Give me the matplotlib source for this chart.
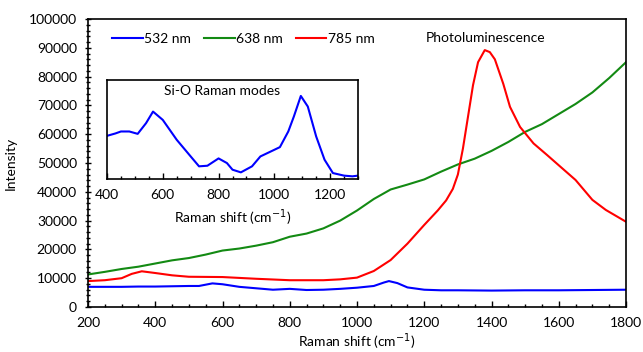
import matplotlib
matplotlib.use("Agg")
import matplotlib.pyplot as plt
from matplotlib.ticker import MultipleLocator

plt.rcParams['font.family'] = ['Lato', 'DejaVu Sans']

# Main spectra
blue_x = [200,250,300,350,400,450,500,530,570,600,650,700,750,800,850,900,950,1000,1050,1080,1095,1120,1150,1200,1250,1300,1400,1500,1600,1700,1800]
blue_y = [7000,7000,7000,7100,7100,7200,7300,7300,8200,7900,7000,6500,6000,6300,5900,6000,6300,6700,7300,8500,9000,8300,6800,6000,5800,5800,5700,5800,5800,5900,6000]

green_x = [200,250,300,350,400,450,500,550,600,650,700,750,800,850,900,950,1000,1050,1100,1150,1200,1250,1300,1350,1400,1450,1500,1550,1600,1650,1700,1750,1800]
green_y = [11300,12200,13200,14000,15100,16200,17000,18200,19600,20300,21300,22500,24400,25500,27300,30000,33500,37500,40800,42500,44300,47000,49500,51500,54200,57300,60800,63500,67000,70500,74500,79500,85000]

red_x = [200,250,300,330,360,400,450,500,600,700,800,900,950,1000,1050,1100,1150,1200,1240,1265,1285,1300,1315,1330,1345,1360,1380,1395,1410,1435,1455,1485,1525,1565,1605,1650,1700,1740,1800]
red_y = [9000,9300,10000,11500,12400,11800,11000,10500,10400,9800,9300,9300,9600,10200,12500,16300,22000,28500,33500,37000,41000,46000,55000,66000,77000,85000,89200,88500,86000,77500,69500,62500,56800,52800,48700,44100,37200,33700,29600]

# Inset (Si-O Raman modes, arbitrary units)
inset_x = [400,430,450,480,510,540,565,600,650,700,730,760,800,830,850,880,920,950,1000,1020,1050,1070,1095,1120,1150,1180,1210,1250,1280,1300]
inset_y = [0.436,0.46,0.48,0.48,0.456,0.564,0.681,0.597,0.396,0.228,0.128,0.134,0.208,0.161,0.094,0.067,0.128,0.228,0.295,0.322,0.48,0.631,0.839,0.732,0.43,0.195,0.06,0.034,0.027,0.034]

labels = ['532 nm', '638 nm', '785 nm']
colors = ['#0000ff', '#138a13', '#ff0000']

FS = 10

fig = plt.figure(figsize=(6.43, 3.52), dpi=100)
ax = fig.add_axes([88/643, 1-307/352, (626-88)/643, (307-19)/352])

ax.plot(blue_x, blue_y, color=colors[0], lw=1.5, label=labels[0])
ax.plot(green_x, green_y, color=colors[1], lw=1.5, label=labels[1])
ax.plot(red_x, red_y, color=colors[2], lw=1.5, label=labels[2])

ax.set_xlim(200, 1800)
ax.set_ylim(0, 100000)
ax.xaxis.set_major_locator(MultipleLocator(200))
ax.xaxis.set_minor_locator(MultipleLocator(50))
ax.yaxis.set_major_locator(MultipleLocator(10000))
ax.yaxis.set_minor_locator(MultipleLocator(2000))
ax.tick_params(axis='x', which='both', direction='in', labelsize=FS, width=1, pad=7)
ax.tick_params(axis='y', which='both', direction='inout', labelsize=FS, width=1, pad=6)
ax.tick_params(which='major', length=4)
ax.tick_params(which='minor', length=2.5)
for s in ax.spines.values():
    s.set_linewidth(1.2)
ax.set_xlabel('Raman shift (cm$^{-1}$)', fontsize=FS, labelpad=2)
ax.set_ylabel('Intensity', fontsize=FS, labelpad=9)

ax.legend(loc='center left', bbox_to_anchor=(0.0446, 0.93), ncol=3, frameon=False,
          fontsize=FS, handlelength=2.2, handletextpad=0.1, columnspacing=0.95,
          borderaxespad=0, borderpad=0)
ax.text(1383, 93500, 'Photoluminescence', ha='center', va='center', fontsize=FS)

ins = fig.add_axes([107/643, 1-179/352, (358-107)/643, (179-80)/352])
ins.plot(inset_x, inset_y, color=colors[0], lw=1.5)
ins.set_xlim(400, 1300)
ins.set_ylim(0, 1)
ins.xaxis.set_major_locator(MultipleLocator(200))
ins.xaxis.set_minor_locator(MultipleLocator(50))
ins.set_yticks([])
ins.tick_params(which='both', direction='in', labelsize=FS, width=1, pad=7)
ins.tick_params(which='major', length=4)
ins.tick_params(which='minor', length=2.5)
for s in ins.spines.values():
    s.set_linewidth(1.2)
ins.set_xlabel('Raman shift (cm$^{-1}$)', fontsize=FS, labelpad=5)
ins.text(0.46, 0.89, 'Si-O Raman modes', transform=ins.transAxes, ha='center', va='center', fontsize=FS)

fig.savefig('out.png', dpi=100)
